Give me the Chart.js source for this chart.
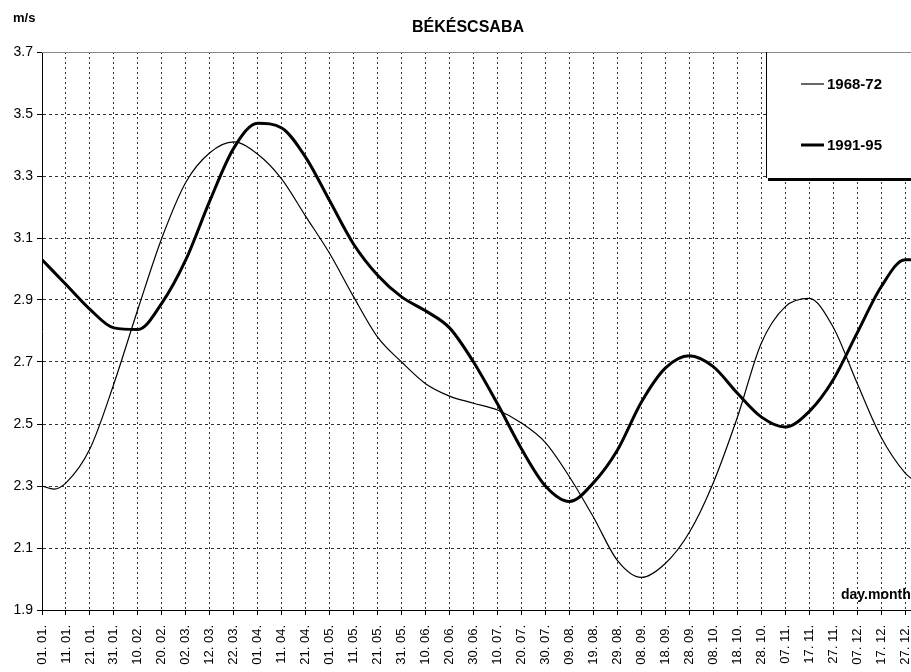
<!DOCTYPE html>
<html>
<head>
<meta charset="utf-8">
<title>BÉKÉSCSABA</title>
<script src="https://cdn.jsdelivr.net/npm/chart.js@4/dist/chart.umd.min.js"></script>
<style>
  html, body { margin: 0; padding: 0; background: #fff; }
  canvas { display: block; }
</style>
</head>
<body>
<canvas id="windChart" width="911" height="672"></canvas>
<script>
(function () {
  "use strict";

  // days counted from 01.01.
  const days = [0, 5, 10, 20, 30, 40, 50, 60, 70, 80, 90, 100, 110, 120, 130, 140, 150,
    160, 170, 180, 190, 200, 210, 220, 230, 240, 250, 260, 270, 280, 290, 300,
    310, 320, 330, 340, 350, 360, 362.5];

  const speed6872 = [2.30, 2.29, 2.31, 2.42, 2.63, 2.87, 3.10, 3.28, 3.375, 3.41, 3.37,
    3.29, 3.17, 3.05, 2.91, 2.78, 2.70, 2.63, 2.59, 2.567, 2.545, 2.503, 2.44,
    2.33, 2.20, 2.06, 2.005, 2.05, 2.15, 2.31, 2.52, 2.76, 2.878, 2.905,
    2.813, 2.632, 2.458, 2.342, 2.325];

  const speed9195 = [3.03, 2.99, 2.95, 2.87, 2.81, 2.805, 2.89, 3.03, 3.22, 3.39, 3.47,
    3.455, 3.36, 3.22, 3.08, 2.98, 2.91, 2.865, 2.81, 2.70, 2.565, 2.42, 2.30,
    2.25, 2.31, 2.415, 2.57, 2.68, 2.72, 2.685, 2.60, 2.523, 2.49, 2.54,
    2.642, 2.793, 2.942, 3.03, 3.03];

  const dayLabels = ["01. 01.", "11. 01.", "21. 01.", "31. 01.", "10. 02.", "20. 02.",
    "02. 03.", "12. 03.", "22. 03.", "01. 04.", "11. 04.", "21. 04.", "01. 05.",
    "11. 05.", "21. 05.", "31. 05.", "10. 06.", "20. 06.", "30. 06.", "10. 07.",
    "20. 07.", "30. 07.", "09. 08.", "19. 08.", "29. 08.", "08. 09.", "18. 09.",
    "28. 09.", "08. 10.", "18. 10.", "28. 10.", "07. 11.", "17. 11.", "27. 11.",
    "07. 12.", "17. 12.", "27. 12."];

  const seriesNames = ["1968-72", "1991-95"];

  const FONT = "'Liberation Sans', Arial, sans-serif";

  function toPoints(values) {
    return days.map((d, i) => ({ x: d, y: values[i] }));
  }

  const overlayPlugin = {
    id: "overlay",
    afterDraw(chart) {
      const ctx = chart.ctx;
      const area = chart.chartArea;
      ctx.save();

      // top frame
      ctx.strokeStyle = "#8a8a8a";
      ctx.lineWidth = 1;
      ctx.beginPath();
      ctx.moveTo(area.left, area.top + 0.5);
      ctx.lineTo(area.right, area.top + 0.5);
      ctx.stroke();

      ctx.fillStyle = "#000";
      ctx.textBaseline = "middle";
      ctx.font = "bold 16px " + FONT;
      ctx.textAlign = "center";
      ctx.fillText("BÉKÉSCSABA", 468, 28);

      ctx.font = "bold 13px " + FONT;
      ctx.textAlign = "left";
      ctx.fillText("m/s", 13, 18);

      ctx.textBaseline = "alphabetic";
      ctx.font = "bold 14px " + FONT;
      ctx.fillText("day.month", 841, 599);

      // legend box
      const bx = 766, by = area.top, bh = 126;
      ctx.fillStyle = "#fff";
      ctx.fillRect(bx, by + 1, chart.width - bx, bh);
      ctx.strokeStyle = "#000";
      ctx.lineWidth = 1;
      ctx.beginPath();
      ctx.moveTo(bx + 0.5, by);
      ctx.lineTo(bx + 0.5, by + bh);
      ctx.stroke();
      ctx.lineWidth = 3;
      ctx.beginPath();
      ctx.moveTo(bx + 2, by + bh + 1.5);
      ctx.lineTo(chart.width, by + bh + 1.5);
      ctx.stroke();

      const rows = [84, 145];
      chart.data.datasets.forEach((ds, i) => {
        ctx.strokeStyle = ds.borderColor;
        ctx.lineWidth = ds.borderWidth;
        ctx.beginPath();
        ctx.moveTo(801, rows[i]);
        ctx.lineTo(824, rows[i]);
        ctx.stroke();
        ctx.fillStyle = "#000";
        ctx.font = "bold 15px " + FONT;
        ctx.textBaseline = "middle";
        ctx.textAlign = "left";
        ctx.fillText(ds.label, 827, rows[i] + 1);
      });

      ctx.restore();
    }
  };

  const canvas = document.getElementById("windChart");

  new Chart(canvas, {
    type: "line",
    data: {
      datasets: [
        {
          label: seriesNames[0],
          data: toPoints(speed6872),
          borderColor: "#000",
          borderWidth: 1.2,
          pointRadius: 0,
          tension: 0.4,
          cubicInterpolationMode: "monotone",
          fill: false
        },
        {
          label: seriesNames[1],
          data: toPoints(speed9195),
          borderColor: "#000",
          borderWidth: 3,
          pointRadius: 0,
          tension: 0.4,
          cubicInterpolationMode: "monotone",
          fill: false
        }
      ]
    },
    options: {
      responsive: false,
      animation: false,
      layout: { padding: { top: 52, left: 0, right: 0, bottom: 0 } },
      plugins: {
        legend: { display: false },
        title: { display: false },
        tooltip: { enabled: false }
      },
      scales: {
        x: {
          type: "linear",
          min: 0,
          max: 362.5,
          afterBuildTicks(scale) {
            scale.ticks = dayLabels.map((_, i) => ({ value: i * 10 }));
          },
          afterFit(scale) {
            scale.height = 62;
            scale.paddingLeft = 0;
            scale.paddingRight = 0;
          },
          ticks: {
            stepSize: 10,
            autoSkip: false,
            minRotation: 90,
            maxRotation: 90,
            padding: 10,
            color: "#000",
            font: { family: FONT, size: 13 },
            callback: value => dayLabels[Math.round(value / 10)] || ""
          },
          grid: {
            color: "#333",
            lineWidth: 1,
            tickLength: 5,
            tickColor: "#000",
            tickBorderDash: []
          },
          border: { color: "#000", width: 1, dash: [2, 3] }
        },
        y: {
          min: 1.9,
          max: 3.7,
          afterFit(scale) {
            scale.width = 42;
          },
          ticks: {
            stepSize: 0.2,
            padding: 4,
            color: "#000",
            font: { family: FONT, size: 14 },
            callback: value => Number(value).toFixed(1)
          },
          grid: {
            color: "#333",
            lineWidth: 1,
            tickLength: 5,
            tickColor: "#000",
            tickBorderDash: []
          },
          border: { color: "#000", width: 1, dash: [3, 3] }
        }
      }
    },
    plugins: [overlayPlugin]
  });
})();
</script>
</body>
</html>
